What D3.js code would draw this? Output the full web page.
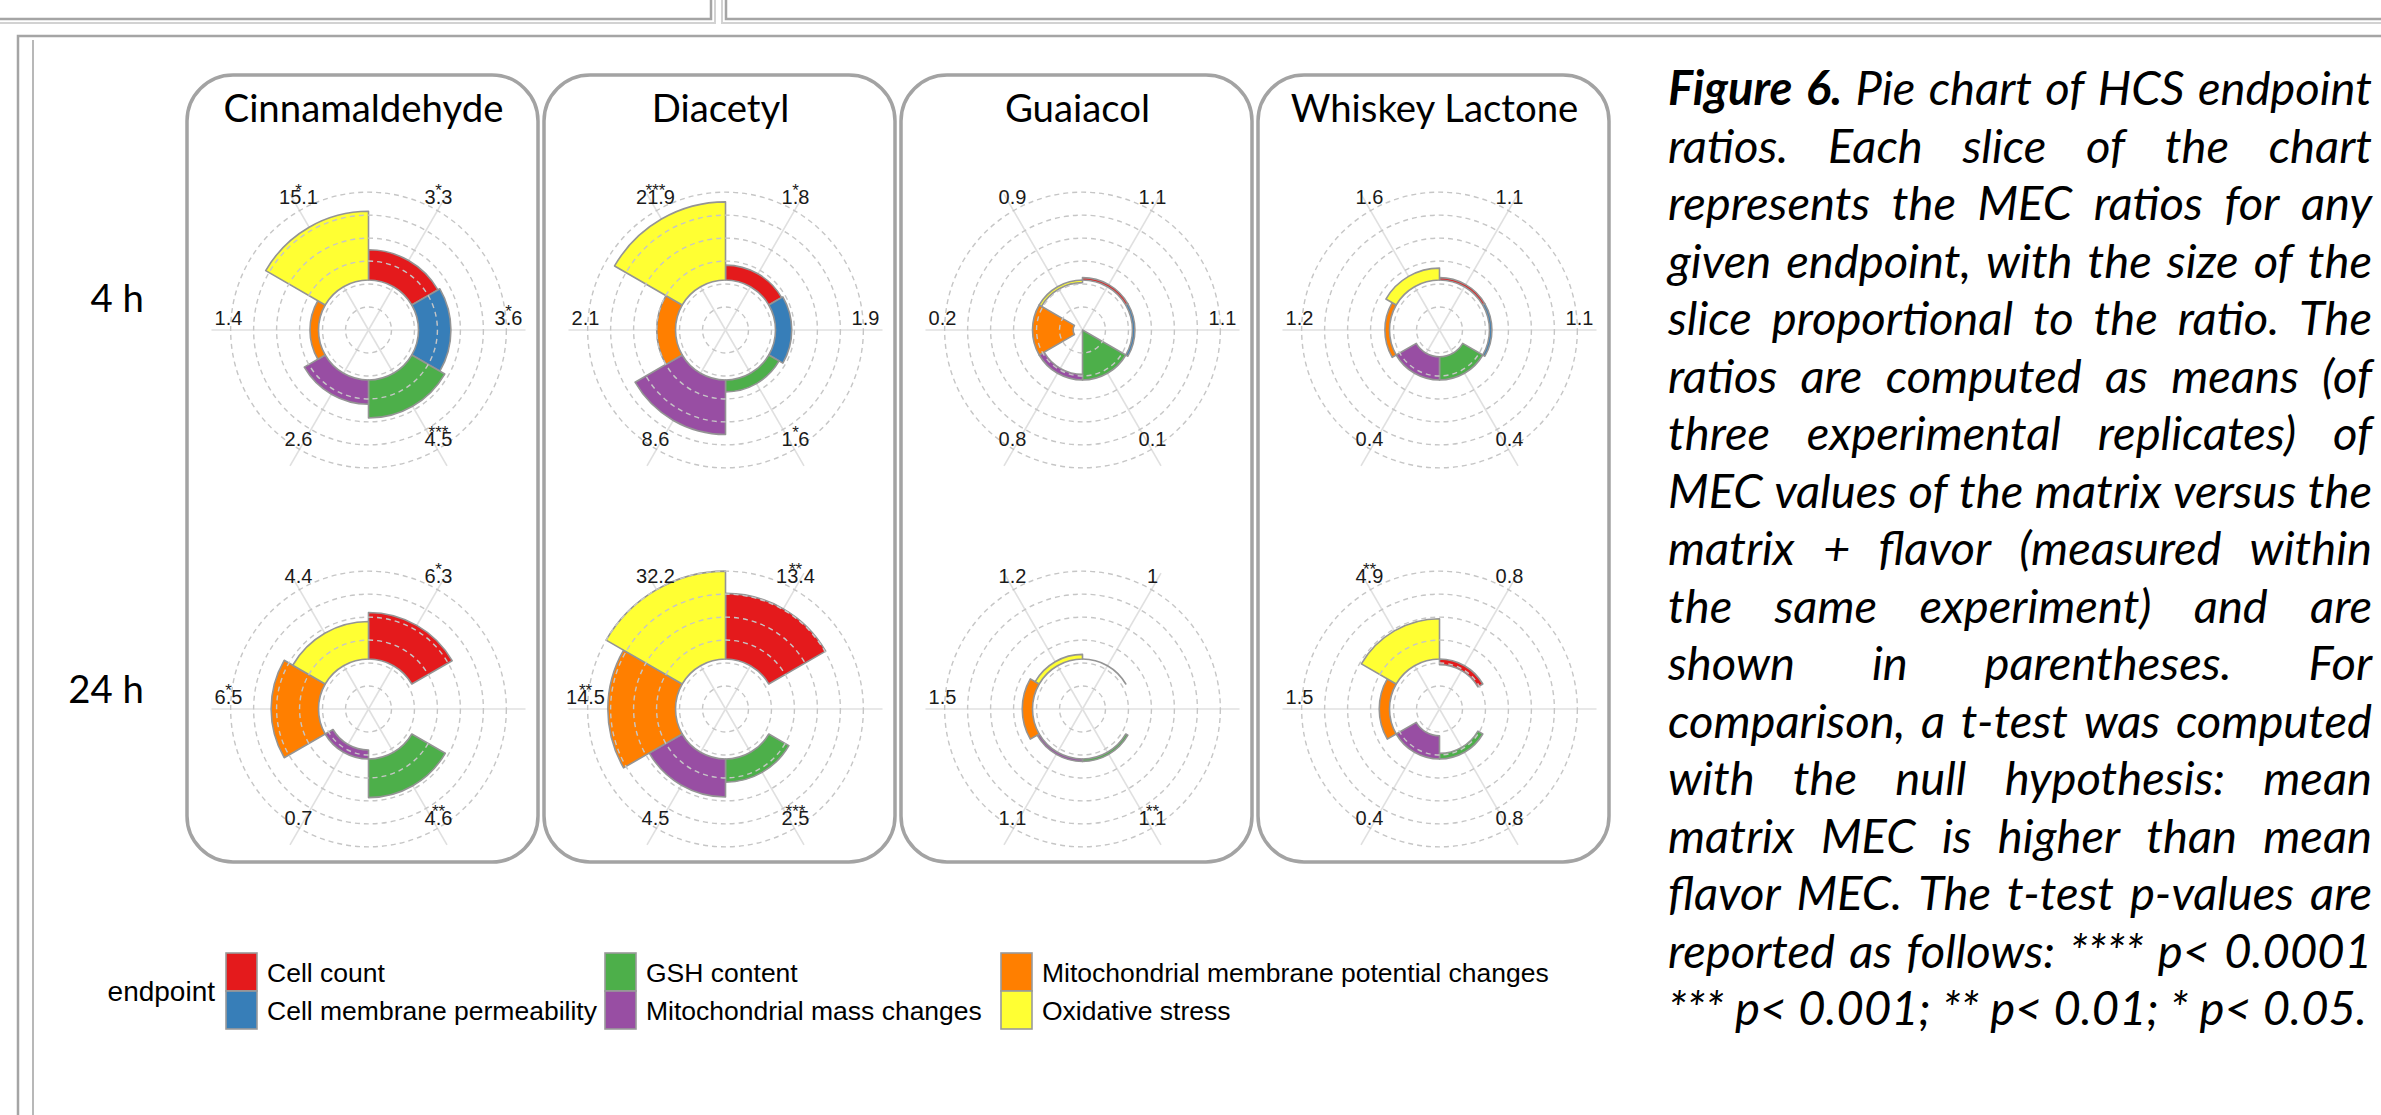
<!DOCTYPE html>
<html>
<head>
<meta charset="utf-8">
<script src="https://cdn.jsdelivr.net/npm/d3@7"></script>
<style>
  html, body { margin: 0; padding: 0; background: #ffffff; }
  svg { display: block; }
</style>
</head>
<body>
<svg id="fig" width="2381" height="1115"></svg>
<script>
// ---- data -------------------------------------------------------------
const endpoints = [
  "Cell count",
  "Cell membrane permeability",
  "GSH content",
  "Mitochondrial mass changes",
  "Mitochondrial membrane potential changes",
  "Oxidative stress"
];
const endpointColors = ["#E41A1C", "#377EB8", "#4DAF4A", "#984EA3", "#FF7F00", "#FFFF33"];
const flavors = ["Cinnamaldehyde", "Diacetyl", "Guaiacol", "Whiskey Lactone"];
const timepoints = ["4 h", "24 h"];

// MEC ratios (matrix / matrix + flavor), in endpoint order; null = not measured
const cinnamaldehyde4h  = [3.3, 3.6, 4.5, 2.6, 1.4, 15.1];
const cinnamaldehyde24h = [6.3, null, 4.6, 0.7, 6.5, 4.4];
const diacetyl4h        = [1.8, 1.9, 1.6, 8.6, 2.1, 21.9];
const diacetyl24h       = [13.4, null, 2.5, 4.5, 14.5, 32.2];
const guaiacol4h        = [1.1, 1.1, 0.1, 0.8, 0.2, 0.9];
const guaiacol24h       = [1, null, 1.1, 1.1, 1.5, 1.2];
const whiskeyLactone4h  = [1.1, 1.1, 0.4, 0.4, 1.2, 1.6];
const whiskeyLactone24h = [0.8, null, 0.8, 0.4, 1.5, 4.9];

// t-test significance marks, same order
const cinnamaldehyde4hSig  = ["*", "*", "***", "", "", "*"];
const cinnamaldehyde24hSig = ["*", "", "**", "", "*", ""];
const diacetyl4hSig        = ["*", "", "*", "", "", "***"];
const diacetyl24hSig       = ["**", "", "***", "", "**", ""];
const guaiacol4hSig        = ["", "", "", "", "", ""];
const guaiacol24hSig       = ["", "", "**", "", "", ""];
const whiskeyLactone4hSig  = ["", "", "", "", "", ""];
const whiskeyLactone24hSig = ["", "", "", "", "", "**"];

const ratioGrid = [
  [cinnamaldehyde4h, cinnamaldehyde24h],
  [diacetyl4h, diacetyl24h],
  [guaiacol4h, guaiacol24h],
  [whiskeyLactone4h, whiskeyLactone24h]
];
const sigGrid = [
  [cinnamaldehyde4hSig, cinnamaldehyde24hSig],
  [diacetyl4hSig, diacetyl24hSig],
  [guaiacol4hSig, guaiacol24hSig],
  [whiskeyLactone4hSig, whiskeyLactone24hSig]
];

const captionLines = [
  "Figure 6. Pie chart of HCS endpoint",
  "ratios. Each slice of the chart",
  "represents the MEC ratios for any",
  "given endpoint, with the size of the",
  "slice proportional to the ratio. The",
  "ratios are computed as means (of",
  "three experimental replicates) of",
  "MEC values of the matrix versus the",
  "matrix + flavor (measured within",
  "the same experiment) and are",
  "shown in parentheses. For",
  "comparison, a t-test was computed",
  "with the null hypothesis: mean",
  "matrix MEC is higher than mean",
  "flavor MEC. The t-test p-values are",
  "reported as follows: **** p< 0.0001",
  "*** p< 0.001; ** p< 0.01; * p< 0.05."
];
const captionBoldWords = 2; // "Figure 6."

// ---- setup ------------------------------------------------------------
const svg = d3.select("#fig");
const SANS = "'Liberation Sans', Arial, Helvetica, sans-serif";
const HUMANIST = "Lato, 'Open Sans', sans-serif";

function measure(text, font) {
  const t = svg.append("text").style("font", font).text(text);
  const w = t.node().getComputedTextLength();
  t.remove();
  return w;
}

// ---- page frame lines ----------------------------------------------
const frame = svg.append("g").attr("fill", "none");
const frameLine = (d, c, w) => frame.append("path").attr("d", d).attr("stroke", c).attr("stroke-width", w);
frameLine("M0,19H711V0", "#a5a5a5", 2.5);
frameLine("M0,23H715V0", "#d2d2d2", 2);
frameLine("M2381,19H726V0", "#a5a5a5", 2.5);
frameLine("M2381,23H722V0", "#d2d2d2", 2);
frameLine("M18,1115V36H2381", "#a5a5a5", 2.5);
frameLine("M33,1115V40", "#b8b8b8", 2);

// ---- scales -----------------------------------------------------------
const angle = d3.scaleBand().domain(endpoints).range([0, 2 * Math.PI]);
const colour = d3.scaleOrdinal().domain(endpoints).range(endpointColors);
const allRatios = ratioGrid.flat(2).filter(v => v != null);
// log-ratio radial axis; ratio 1 forms the base circle, smaller ratios point inwards
const radius = d3.scaleLog().domain([0.1386, 35.05]).range([0, 140]).clamp(true);
const rings = d3.scaleLinear().domain([0, 6]).range([0, radius(d3.max(allRatios))]);
const ringTicks = d3.range(1, 7);
const spokeReach = 157;
const labelReach = 140;

const bar = d3.arc()
  .innerRadius(d => Math.min(radius(1), radius(d.value)))
  .outerRadius(d => Math.max(radius(1), radius(d.value)))
  .startAngle(d => angle(d.endpoint))
  .endAngle(d => angle(d.endpoint) + angle.bandwidth());

// ---- layout -----------------------------------------------------------
const panelLeft0 = 187, panelStep = 357, panelW = 351;
const panelTop = 75, panelBottom = 862;
const rowCentreY = [330, 709];
const chartOffsetX = 181.5;

const titleSize = 100 * 280 / measure(flavors[0], `100px ${HUMANIST}`);

// ---- panels -------------------------------------------------------------
flavors.forEach((flavor, fi) => {
  const left = panelLeft0 + fi * panelStep;
  const cx = left + chartOffsetX;
  const g = svg.append("g");

  g.append("rect")
    .attr("x", left).attr("y", panelTop)
    .attr("width", panelW).attr("height", panelBottom - panelTop)
    .attr("rx", 46).attr("ry", 46)
    .attr("fill", "none").attr("stroke", "#a3a3a3").attr("stroke-width", 3.5);

  g.append("text")
    .attr("x", cx - 5).attr("y", 122)
    .attr("text-anchor", "middle")
    .style("font-family", HUMANIST).style("font-size", titleSize + "px")
    .attr("fill", "#000")
    .text(flavor);

  timepoints.forEach((tp, ti) => {
    const cy = rowCentreY[ti];
    const ratios = ratioGrid[fi][ti];
    const sigs = sigGrid[fi][ti];
    const rows = endpoints.map((e, i) => ({ endpoint: e, value: ratios[i], sig: sigs[i] }));
    const present = rows.filter(d => d.value != null);
    const chart = g.append("g").attr("transform", `translate(${cx},${cy})`);

    // spokes
    chart.selectAll("line.spoke").data(endpoints).join("line")
      .attr("class", "spoke")
      .attr("x1", 0).attr("y1", 0)
      .attr("x2", e => spokeReach * Math.sin(angle(e) + angle.bandwidth() / 2))
      .attr("y2", e => -spokeReach * Math.cos(angle(e) + angle.bandwidth() / 2))
      .attr("stroke", "#e0e0e0").attr("stroke-width", 1.6);

    // bars
    chart.selectAll("path.bar").data(present).join("path")
      .attr("class", "bar")
      .attr("d", bar)
      .attr("fill", d => colour(d.endpoint))
      .attr("stroke", "#949494").attr("stroke-width", 1.6)
      .attr("stroke-linejoin", "round");

    // dashed radial grid on top
    chart.selectAll("circle.ring").data(ringTicks).join("circle")
      .attr("class", "ring")
      .attr("r", d => rings(d))
      .attr("fill", "none")
      .attr("stroke", "#c6c6c6").attr("stroke-width", 1.4)
      .attr("stroke-dasharray", "5,4");

    // value labels
    const mid = d => angle(d.endpoint) + angle.bandwidth() / 2;
    chart.selectAll("text.val").data(present).join("text")
      .attr("class", "val")
      .attr("x", d => labelReach * Math.sin(mid(d)))
      .attr("y", d => -labelReach * Math.cos(mid(d)) - 5)
      .attr("text-anchor", "middle")
      .style("font-family", SANS).style("font-size", "20px")
      .attr("fill", "#1a1a1a")
      .text(d => String(d.value));

    chart.selectAll("text.sig").data(present.filter(d => d.sig)).join("text")
      .attr("class", "sig")
      .attr("x", d => labelReach * Math.sin(mid(d)))
      .attr("y", d => -labelReach * Math.cos(mid(d)) - 13)
      .attr("text-anchor", "middle")
      .style("font-family", SANS).style("font-size", "17px")
      .attr("fill", "#1a1a1a")
      .text(d => d.sig);
  });
});

// ---- row labels ---------------------------------------------------------
const rowLabelBase = [312, 703];
timepoints.forEach((tp, i) => {
  svg.append("text")
    .attr("x", 144).attr("y", rowLabelBase[i])
    .attr("text-anchor", "end")
    .style("font-family", HUMANIST).style("font-size", titleSize + "px")
    .attr("fill", "#000")
    .text(tp);
});

// ---- legend -----------------------------------------------------------
const legend = svg.append("g");
const keyCols = [226, 605, 1001];
const keyW = 31, keyH = 38, keyTop = 953;
legend.append("text")
  .attr("x", 215).attr("y", 1001)
  .attr("text-anchor", "end")
  .style("font-family", SANS).style("font-size", "28px")
  .attr("fill", "#000")
  .text("endpoint");
endpoints.forEach((e, i) => {
  const col = Math.floor(i / 2), row = i % 2;
  const x = keyCols[col], y = keyTop + row * keyH;
  legend.append("rect")
    .attr("x", x).attr("y", y).attr("width", keyW).attr("height", keyH)
    .attr("fill", colour(e)).attr("stroke", "#9a9a9a").attr("stroke-width", 1.6);
  legend.append("text")
    .attr("x", x + keyW + 10).attr("y", y + keyH / 2 + 9.5)
    .style("font-family", SANS).style("font-size", "26.5px")
    .attr("fill", "#000")
    .text(e);
});

// ---- caption (justified block) ----------------------------------------
const capLeft = 1668, capRight = 2372, capBase0 = 105, capLead = 57.5;
const capWidth = capRight - capLeft;
const lastLine = captionLines[captionLines.length - 1];
const wordFont = (w, i, size) =>
  `${i < captionBoldWords ? "italic 700" : "italic 400"} ${size}px ${HUMANIST}`;

// size from the last (unjustified) line, capped so no justified line overflows
let capSize = 100 * 699 / measure(lastLine, `italic 100px ${HUMANIST}`);
const spaceAt100 = measure("a a", `italic 100px ${HUMANIST}`) - measure("aa", `italic 100px ${HUMANIST}`);
let widest = 0;
captionLines.forEach((line, li) => {
  const words = line.split(" ");
  let w = 0;
  words.forEach((wd, wi) => { w += measure(wd, wordFont(wd, li === 0 ? wi : 99, 100)); });
  w += spaceAt100 * 0.8 * (words.length - 1);
  if (li < captionLines.length - 1) widest = Math.max(widest, w);
});
capSize = Math.min(capSize, 100 * capWidth / widest);

const caption = svg.append("g");
captionLines.forEach((line, li) => {
  const y = capBase0 + li * capLead;
  const words = line.split(" ");
  const fonts = words.map((wd, wi) => wordFont(wd, li === 0 ? wi : 99, capSize));
  const widths = words.map((wd, wi) => measure(wd, fonts[wi]));
  const isLast = li === captionLines.length - 1;
  const gap = isLast ? spaceAt100 * capSize / 100
    : (capWidth - d3.sum(widths)) / (words.length - 1);
  let x = capLeft;
  words.forEach((wd, wi) => {
    caption.append("text")
      .attr("x", x).attr("y", y)
      .style("font", fonts[wi])
      .attr("fill", "#000")
      .text(wd);
    x += widths[wi] + gap;
  });
});
</script>
</body>
</html>
